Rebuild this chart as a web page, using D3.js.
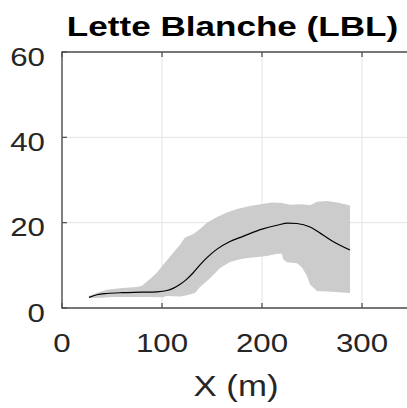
<!DOCTYPE html>
<html>
<head>
<meta charset="utf-8">
<script src="https://cdn.jsdelivr.net/npm/d3@7"></script>
<style>
  body { margin: 0; background: #fff; }
  svg { display: block; font-family: "Liberation Sans", Arial, sans-serif; }
</style>
</head>
<body>
<div class="chart"></div>
<script>
// mean profile (x in m, value)
var meanX = [27, 35, 45, 60, 80, 95, 105, 111, 117, 124, 131, 138, 145, 155, 168, 181, 200, 215, 226, 235, 248, 261, 271, 288];
var meanY = [2.5, 3.1, 3.4, 3.6, 3.7, 3.8, 4.1, 4.6, 5.4, 6.6, 8.2, 10.1, 11.8, 13.8, 15.6, 16.8, 18.5, 19.4, 19.9, 19.8, 19.0, 17.1, 15.6, 13.6];

// envelope, upper edge
var upX = [27, 35, 45, 60, 75, 80, 85, 90, 95, 100, 105, 111, 118, 123, 131, 138, 145, 155, 165, 175, 188, 200, 210, 220, 228, 240, 248, 255, 265, 275, 283, 288];
var upY = [2.8, 3.6, 4.3, 4.7, 4.9, 5.2, 6.2, 7.2, 8.3, 9.8, 11.2, 12.9, 14.8, 16.5, 17.3, 18.5, 20.0, 21.3, 22.4, 23.2, 23.9, 24.4, 24.7, 24.6, 24.2, 24.3, 24.1, 24.9, 25.1, 24.7, 24.3, 24.0];

// envelope, lower edge
var lowX = [27, 40, 50, 60, 85, 100, 105, 118, 125, 133, 138, 148, 158, 168, 178, 185, 198, 205, 215, 220, 221, 225, 235, 240, 245, 248, 255, 270, 288];
var lowY = [2.3, 2.4, 2.6, 2.6, 2.6, 2.5, 2.8, 2.7, 3.0, 3.5, 4.9, 7.0, 9.4, 10.8, 11.4, 11.7, 12.0, 12.2, 12.7, 12.7, 11.5, 10.7, 10.5, 9.5, 7.5, 5.5, 4.0, 3.8, 3.5];

var xTicks = [0, 100, 200, 300];
var yTicks = [0, 20, 40, 60];
var title = "Lette Blanche (LBL)";
var xLabel = "X (m)";

var W = 407, H = 408;
var mLeft = 62, mTop = 52, mBottom = 308;
var sxTick = 1.18, sxTitle = 1.3, sxLabel = 1.2; // glyphs in the reference are stretched horizontally

var x = d3.scaleLinear().domain([0, 350]).range([mLeft, mLeft + 350]);
var y = d3.scaleLinear().domain([0, 60]).range([mBottom, mTop]);

var svg = d3.select(".chart").append("svg")
  .attr("width", W)
  .attr("height", H);

// grid
svg.append("g").selectAll("line").data(xTicks.slice(1)).enter().append("line")
  .attr("x1", d => x(d)).attr("x2", d => x(d))
  .attr("y1", mTop).attr("y2", mBottom)
  .attr("stroke", "#e3e3e3").attr("stroke-width", 1);
svg.append("g").selectAll("line").data(yTicks.slice(1, -1)).enter().append("line")
  .attr("x1", mLeft).attr("x2", x(350))
  .attr("y1", d => y(d)).attr("y2", d => y(d))
  .attr("stroke", "#e3e3e3").attr("stroke-width", 1);

// envelope
var band = upX.map((d, i) => [d, upY[i]]).concat(lowX.map((d, i) => [d, lowY[i]]).reverse());
svg.append("path")
  .datum(band)
  .attr("d", d3.line().x(d => x(d[0])).y(d => y(d[1])))
  .attr("fill", "#cccccc")
  .attr("stroke", "none");

// mean line
svg.append("path")
  .datum(meanX.map((d, i) => [d, meanY[i]]))
  .attr("d", d3.line().x(d => x(d[0])).y(d => y(d[1])).curve(d3.curveMonotoneX))
  .attr("fill", "none")
  .attr("stroke", "#000")
  .attr("stroke-width", 1.2);

// axes box (left, bottom, top), ticks pointing in
var axisCol = "#4a4a4a";
svg.append("path")
  .attr("d", `M${x(350)},${mTop}H${mLeft}V${mBottom}H${x(350)}`)
  .attr("fill", "none").attr("stroke", axisCol).attr("stroke-width", 1.4);

var xt = svg.append("g").selectAll("g").data(xTicks).enter().append("g");
xt.append("line")
  .attr("x1", d => x(d)).attr("x2", d => x(d))
  .attr("y1", mBottom).attr("y2", mBottom - 5)
  .attr("stroke", axisCol).attr("stroke-width", 1.2);
xt.append("line")
  .attr("x1", d => x(d)).attr("x2", d => x(d))
  .attr("y1", mTop).attr("y2", mTop + 5)
  .attr("stroke", axisCol).attr("stroke-width", 1.2);
xt.append("text")
  .attr("transform", d => `translate(${x(d)},352) scale(${sxTick},1)`)
  .attr("text-anchor", "middle")
  .attr("font-size", 26.5)
  .attr("fill", "#262626")
  .text(d => d);

var yt = svg.append("g").selectAll("g").data(yTicks).enter().append("g");
yt.append("line")
  .attr("x1", mLeft).attr("x2", mLeft + 5)
  .attr("y1", d => y(d)).attr("y2", d => y(d))
  .attr("stroke", axisCol).attr("stroke-width", 1.2);
yt.append("text")
  .attr("transform", d => `translate(45,${y(d) + 13.5}) scale(${sxTick},1)`)
  .attr("text-anchor", "end")
  .attr("font-size", 26.5)
  .attr("fill", "#262626")
  .text(d => d);

// labels
svg.append("text")
  .attr("transform", `translate(236,396) scale(${sxLabel},1)`)
  .attr("text-anchor", "middle")
  .attr("font-size", 29)
  .attr("fill", "#262626")
  .text(xLabel);

svg.append("text")
  .attr("transform", `translate(232.5,36) scale(${sxTitle},1)`)
  .attr("text-anchor", "middle")
  .attr("font-size", 27)
  .attr("font-weight", "bold")
  .attr("fill", "#000")
  .text(title);
</script>
</body>
</html>
